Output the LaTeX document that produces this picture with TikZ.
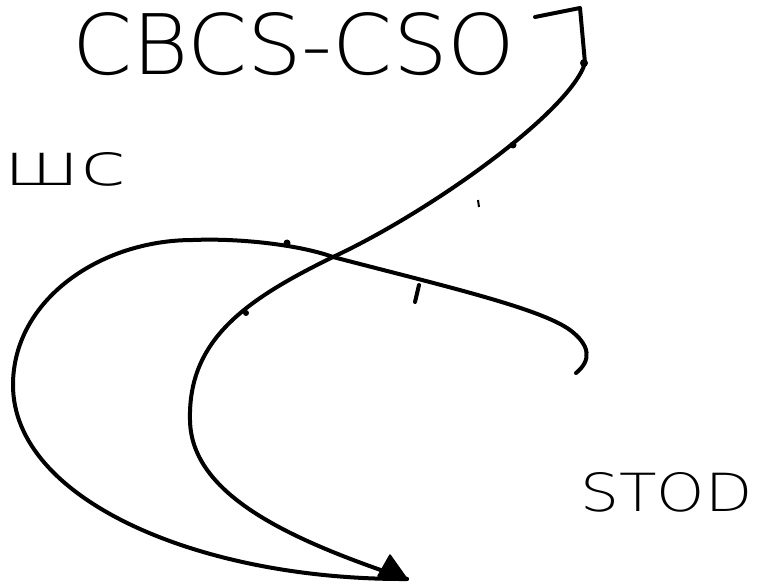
\documentclass[tikz,border=0pt]{standalone}
\usepackage{fontspec}
\setmainfont{DejaVu Sans}
\newfontfamily\thinfont{DejaVu Sans ExtraLight}
\usetikzlibrary{arrows.meta}
\begin{document}
\begin{tikzpicture}[x=1pt,y=-1pt,
  stroke/.style={line width=4pt, line cap=round, line join=round},
  bump/.style={fill=black, circle, inner sep=0pt, minimum size=8pt},
  hand/.style={inner sep=0pt, font=\thinfont}]
\useasboundingbox (0,0) rectangle (757,585);
% texts
\node[hand, anchor=south west] (title) at (72,76) {\resizebox{443pt}{62pt}{CBCS-CSO}};
\node[hand, anchor=south west] (left) at (3,187) {\resizebox{124pt}{33pt}{шс}};
\node[hand, anchor=south west] (stop) at (580,512) {\resizebox{172pt}{39pt}{STOD}};
% key points
\coordinate (b0) at (535,17);
\coordinate (b1) at (580,8);
\coordinate (c1s) at (585,63);
\coordinate (x) at (333,257);
\coordinate (l1) at (190,420);
\coordinate (tip) at (407,579);
\coordinate (hA) at (390,555);
\coordinate (hB) at (378,576);
\coordinate (hook) at (576,373);
\coordinate (h2) at (570,330);
\coordinate (top2) at (193,240);
\coordinate (l2) at (13,385);
% curve 1: from the bracket down to the arrow tip
\draw[stroke] (b0) -- (b1) -- (c1s);
\draw[stroke]
  (c1s) .. controls (570,112) and (430,212) .. (x)
        .. controls (245,300) and (188,340) .. (l1)
        .. controls (191,495) and (290,540) .. (tip);
% arrowhead
\fill[line join=round, draw, line width=1.5pt] (tip) -- (hA) -- (hB) -- cycle;
% curve 2: from the hook round to the arrow tip
\draw[stroke]
  (hook) .. controls (592,360) and (590,345) .. (h2)
         .. controls (540,308) and (440,285) .. (x)
         .. controls (300,245) and (240,238) .. (top2)
         .. controls (100,240) and (13,300) .. (l2)
         .. controls (13,500) and (200,580) .. (tip);
% small marks
\node[bump] (d1) at (584,63) {};
\node[bump, minimum size=7pt] (d2) at (513,145) {};
\node[bump, minimum size=7pt] (d3) at (287,243) {};
\node[bump, minimum size=6pt] (d4) at (246,313) {};
\coordinate (t1) at (419,285);
\coordinate (t2) at (415,302);
\draw[stroke] (t1) -- (t2);
\coordinate (m1) at (478,200);
\coordinate (m2) at (479,207);
\draw[line width=2pt] (m1) -- (m2);
\end{tikzpicture}
\end{document}
